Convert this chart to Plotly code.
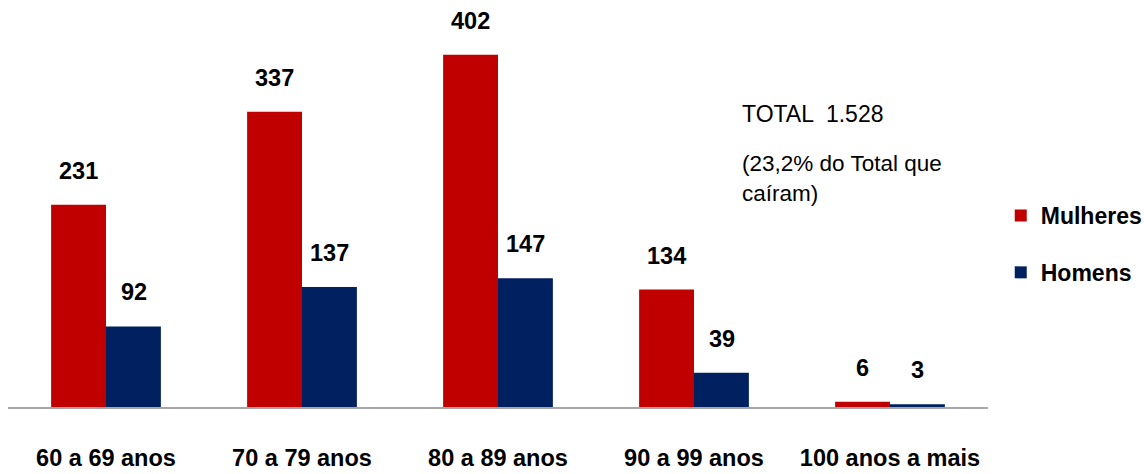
import plotly.graph_objects as go

categories = ["60 a 69 anos", "70 a 79 anos", "80 a 89 anos", "90 a 99 anos", "100 anos a mais"]
mulheres = [231, 337, 402, 134, 6]
homens = [92, 137, 147, 39, 3]
series_names = ["Mulheres", "Homens"]
total_text = "TOTAL  1.528"
note_lines = ["(23,2% do Total que", "caíram)"]

FONT = "Liberation Sans, Arial, sans-serif"
RED = "#C00000"
BLUE = "#002060"
BOLD_SIZE = 23.5

fig = go.Figure()
fig.add_trace(go.Bar(x=categories, y=mulheres, name=series_names[0],
                     marker=dict(color=RED, line=dict(width=0)), legendgroup="m"))
fig.add_trace(go.Bar(x=categories, y=homens, name=series_names[1],
                     marker=dict(color=BLUE, line=dict(width=0)), legendgroup="h"))

annotations = []
for vals, shift in ((mulheres, -27.5), (homens, 27.5)):
    for c, v in zip(categories, vals):
        annotations.append(dict(x=c, y=v, xref="x", yref="y", text=f"<b>{v}</b>",
                                showarrow=False, xshift=shift, yshift=19,
                                yanchor="bottom", xanchor="center",
                                font=dict(family=FONT, size=BOLD_SIZE, color="black")))

annotations.append(dict(x=0.747, y=(407 - 114) / 407, xref="paper", yref="paper", text=total_text,
                        showarrow=False, xanchor="left", yanchor="middle", align="left",
                        font=dict(family=FONT, size=23, color="black")))
for i, line in enumerate(note_lines):
    annotations.append(dict(x=0.747, y=(407 - (163 + 31 * i)) / 407, xref="paper", yref="paper",
                            text=line, showarrow=False, xanchor="left", yanchor="middle",
                            align="left", font=dict(family=FONT, size=22.5, color="black")))

fig.update_layout(
    width=1144, height=474,
    margin=dict(l=8, r=156, t=0, b=67, autoexpand=False),
    plot_bgcolor="white", paper_bgcolor="white",
    barmode="group", bargap=0.44, bargroupgap=0,
    showlegend=True,
    legend=dict(x=1.013, y=(407 - 244) / 407, xanchor="left", yanchor="middle",
                traceorder="grouped", tracegroupgap=24,
                font=dict(family=FONT, size=23, color="black", weight="bold"),
                bgcolor="rgba(0,0,0,0)", itemwidth=30),
    xaxis=dict(showline=True, linecolor="#A6A6A6", linewidth=1.5, showgrid=False,
               ticks="", ticklabelstandoff=29, automargin=False,
               tickfont=dict(family=FONT, size=BOLD_SIZE, color="black", weight="bold")),
    yaxis=dict(range=[0, 464.6], visible=False, showgrid=False, zeroline=False,
               automargin=False),
    annotations=annotations,
)

fig.write_html(
    "out.html",
    config={"displayModeBar": False},
    post_script="document.body.style.margin='0';document.body.style.overflow='hidden';",
)
